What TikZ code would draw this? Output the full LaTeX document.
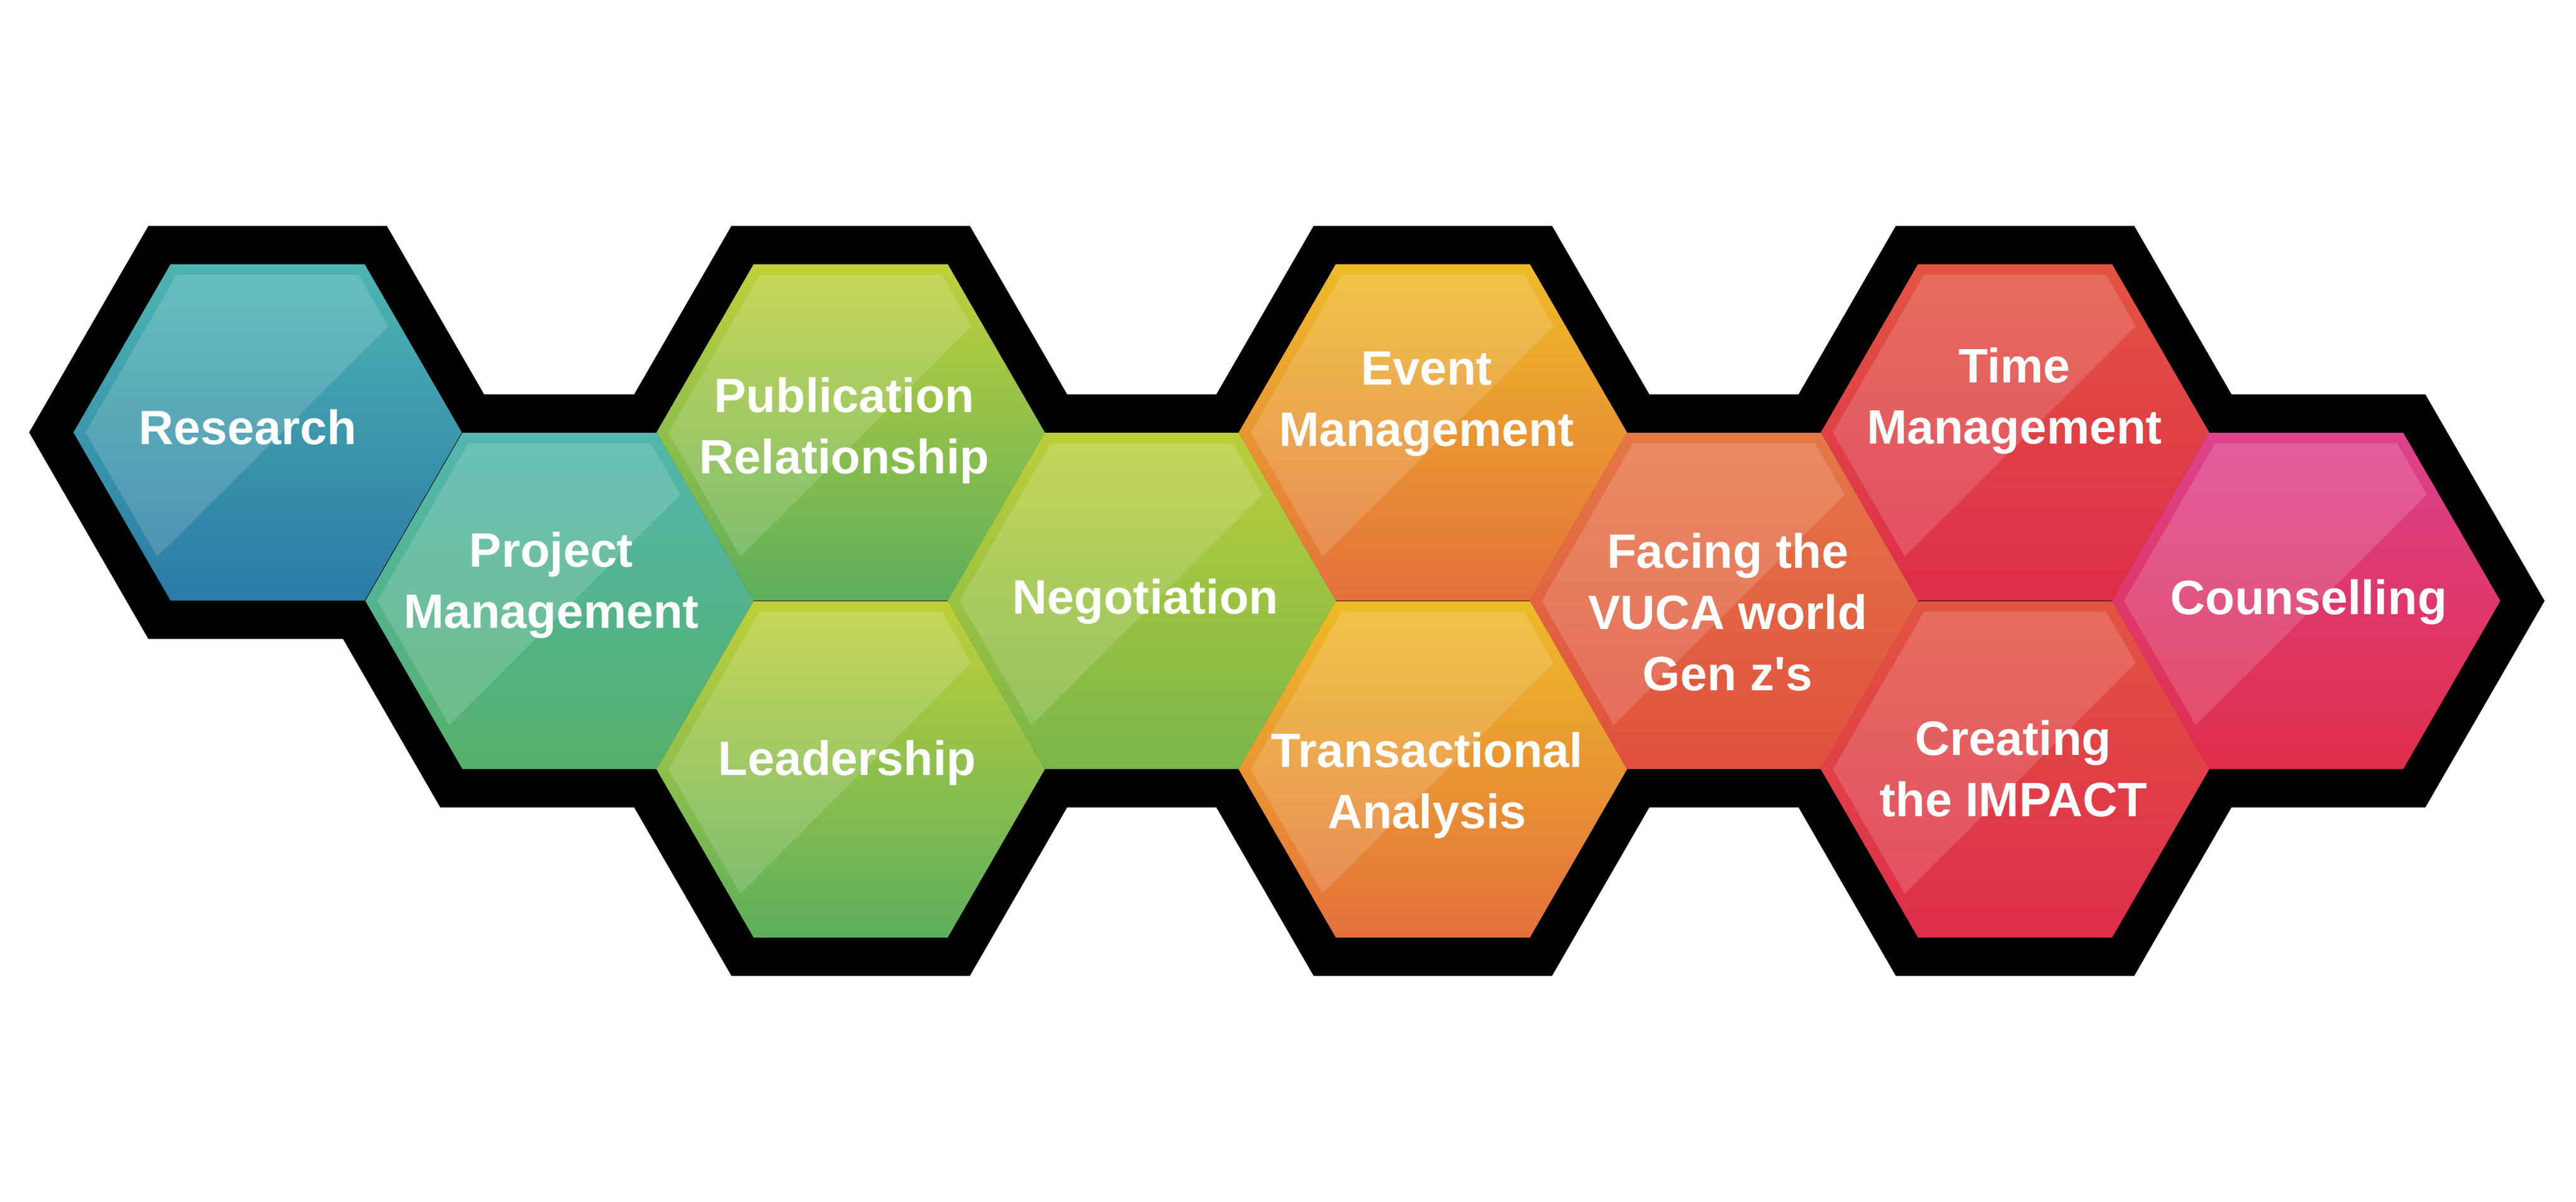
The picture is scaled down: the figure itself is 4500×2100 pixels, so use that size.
\documentclass[tikz,border=0pt]{standalone}
\usepackage{fontspec}
\setmainfont{Liberation Sans}
\usetikzlibrary{shapes.geometric}
\definecolor{resT}{HTML}{4DB5B2}\definecolor{resB}{HTML}{2A7AA6}
\definecolor{pmT}{HTML}{52B7AF}\definecolor{pmB}{HTML}{55B06A}
\definecolor{pubT}{HTML}{C0D03A}\definecolor{pubB}{HTML}{5DAF5C}
\definecolor{negT}{HTML}{BCCE3B}\definecolor{negB}{HTML}{79B649}
\definecolor{evT}{HTML}{EEBC28}\definecolor{evB}{HTML}{E4703C}
\definecolor{vucaT}{HTML}{E47846}\definecolor{vucaB}{HTML}{E0503E}
\definecolor{timeT}{HTML}{E25441}\definecolor{timeB}{HTML}{DE2D4B}
\definecolor{cnsT}{HTML}{DD428D}\definecolor{cnsB}{HTML}{DF2E4A}
\tikzset{
  cell/.style={regular polygon, regular polygon sides=6, minimum size=6.78cm,
    inner sep=0pt, outer sep=0pt},
  rim/.style={cell, fill=black, draw=black, line width=1.34cm, line join=miter},
  shine/.style={white, opacity=0.15},
  skill/.style={text=white, align=center,
    font=\bfseries\fontsize{24}{30.4}\selectfont}
}
\begin{document}
\begin{tikzpicture}[x=0.01cm, y=-0.01cm]
  \useasboundingbox[fill=white] (0,0) rectangle (4500,2100);
  % black frame under the cells
  \foreach \n/\x/\y in {1/467.5/755.5, 2/977.4/1049.8, 3/1486/755.5,
      4/1486/1344, 5/1994.5/1049.8, 6/2503/755.5, 7/2503/1344,
      8/3011.5/1049.8, 9/3520/755.5, 10/3520/1344, 11/4028.5/1049.8}
    \node[rim] (r\n) at (\x,\y) {};
  % cells with their shine
  \foreach \n/\x/\y/\ct/\cb in {1/467.5/755.5/resT/resB,
      2/977.4/1049.8/pmT/pmB, 3/1486/755.5/pubT/pubB,
      4/1486/1344/pubT/pubB, 5/1994.5/1049.8/negT/negB,
      6/2503/755.5/evT/evB, 7/2503/1344/evT/evB,
      8/3011.5/1049.8/vucaT/vucaB, 9/3520/755.5/timeT/timeB,
      10/3520/1344/timeT/timeB, 11/4028.5/1049.8/cnsT/cnsB}
  {
    \node[cell, top color=\ct, bottom color=\cb] (h\n) at (\x,\y) {};
    \fill[shine, shift={(\x,\y)}] (-159,-275.4) -- (159,-275.4)
      -- (210.8,-185.7) -- (-192.7,217) -- (-318,0) -- cycle;
  }
  % labels
  \node[skill] (research) at (433,746) {Research};
  \node[skill] (project) at (963,1022) {Project\\Management};
  \node[skill] (publication) at (1475,752) {Publication\\Relationship};
  \node[skill] (leadership) at (1480,1333) {Leadership};
  \node[skill] (negotiation) at (2001,1051) {Negotiation};
  \node[skill] (event) at (2492,706) {Event\\Management};
  \node[skill] (transact) at (2493,1372) {Transactional\\Analysis};
  \node[skill] (vuca) at (3018,1069) {Facing the\\VUCA world\\Gen z\textquotesingle s};
  \node[skill] (time) at (3519,700) {Time\\Management};
  \node[skill] (impact) at (3517,1343) {Creating\\the IMPACT};
  \node[skill] (counsel) at (4033,1052) {Counselling};
\end{tikzpicture}
\end{document}
